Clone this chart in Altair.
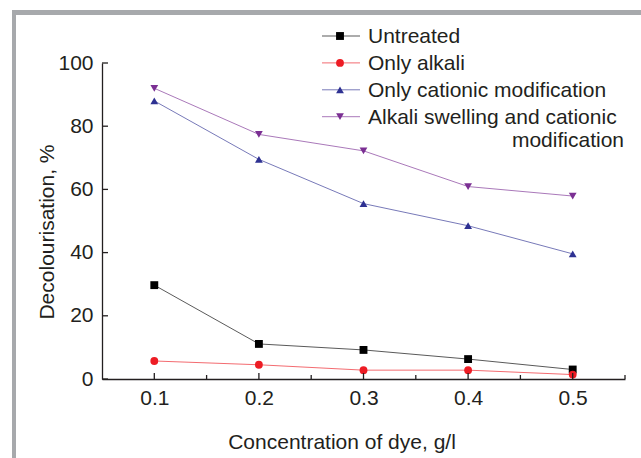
import altair as alt
import pandas as pd

# ---- data ----
conc = [0.1, 0.2, 0.3, 0.4, 0.5]
untreated = [29.7, 11.1, 9.2, 6.3, 3.0]
only_alkali = [5.7, 4.5, 2.8, 2.8, 1.4]
only_cationic = [88.0, 69.5, 55.5, 48.5, 39.6]
alkali_cationic = [92.0, 77.4, 72.2, 60.9, 57.9]

series_names = ["Untreated", "Only alkali", "Only cationic modification",
                "Alkali swelling and cationic modification"]
legend_labels = ["Untreated", "Only alkali", "Only cationic modification",
                 "Alkali swelling and cationic"]
legend_cont = "modification"

y_tick_values = [0, 20, 40, 60, 80, 100]
x_minor_ticks = [0.15, 0.25, 0.35, 0.45, 0.55]

x_title = "Concentration of dye, g/l"
y_title = "Decolourisation, %"

# ---- styles ----
marker_colors = ["#000000", "#ed1c24", "#2e3192", "#7b2f93"]
shapes = ["square", "circle", "triangle-up", "triangle-down"]
sizes = [62, 60, 80, 80]
FONT = "Liberation Sans"
FS = 21
TXT = "#231f20"
W, H = 523, 316

rows = []
for name, vals in zip(series_names, [untreated, only_alkali, only_cationic, alkali_cationic]):
    for c, v in zip(conc, vals):
        rows.append({"series": name, "conc": c, "value": v})
df = pd.DataFrame(rows)

leg_df = pd.DataFrame({"series": series_names, "row": list(range(len(series_names))),
                       "label": legend_labels})

xs = alt.Scale(domain=[0.05, 0.55], nice=False, zero=False)
ys = alt.Scale(domain=[0, 100], nice=False)

color = alt.Color("series:N", scale=alt.Scale(domain=series_names, range=marker_colors), legend=None)
shape = alt.Shape("series:N", scale=alt.Scale(domain=series_names, range=shapes), legend=None)
size = alt.Size("series:N", scale=alt.Scale(domain=series_names, range=sizes), legend=None)

x_axis = alt.Axis(values=conc, format=".1f", ticks=False, grid=False,
                  labelFontSize=FS, labelFont=FONT, labelColor=TXT, labelPadding=8,
                  domainColor=TXT, domainWidth=1.3,
                  title=x_title, titleFont=FONT, titleFontSize=FS, titleFontWeight="normal",
                  titleColor=TXT, titleX=239.5, titleY=69, titleAlign="center",
                  titleBaseline="alphabetic")
y_axis = alt.Axis(values=y_tick_values, ticks=False, grid=False,
                  labelFontSize=FS, labelFont=FONT, labelColor=TXT, labelPadding=9,
                  domainColor=TXT, domainWidth=1.3,
                  title=y_title, titleFont=FONT, titleFontSize=FS, titleFontWeight="normal",
                  titleColor=TXT, titleX=-49, titleY=168.5, titleAlign="center",
                  titleAngle=270, titleBaseline="alphabetic")

X = alt.X("conc:Q", scale=xs, axis=x_axis)

base = alt.Chart(df)
lines = base.mark_line(strokeWidth=1, opacity=0.65).encode(
    x=X,
    y=alt.Y("value:Q", scale=ys, axis=y_axis),
    color=color, detail="series:N")
points = base.mark_point(filled=True, opacity=1).encode(
    x=X,
    y=alt.Y("value:Q", scale=ys, axis=None),
    color=color, shape=shape, size=size)

# inward ticks
yt = alt.Chart(pd.DataFrame({"value": y_tick_values})).mark_rule(color=TXT, strokeWidth=1.3).encode(
    y=alt.Y("value:Q", scale=ys, axis=None), x=alt.value(0), x2=alt.value(6))
xt = alt.Chart(pd.DataFrame({"conc": conc})).mark_rule(color=TXT, strokeWidth=1.3).encode(
    x=X, y=alt.value(H), y2=alt.value(H - 6))
xmt = alt.Chart(pd.DataFrame({"conc": x_minor_ticks})).mark_rule(color=TXT, strokeWidth=1.3).encode(
    x=X, y=alt.value(H), y2=alt.value(H - 4))

# manual legend
ly = alt.Y("row:Q", scale=alt.Scale(domain=[0, 3], range=[-27, 53.7]), axis=None)
leg_base = alt.Chart(leg_df)
leg_lines = leg_base.mark_rule(strokeWidth=1, opacity=0.65).encode(
    x=alt.value(220), x2=alt.value(258), y=ly, color=color)
leg_pts = leg_base.mark_point(filled=True, opacity=1).encode(
    x=alt.value(238), y=ly, color=color, shape=shape, size=size)
leg_txt = leg_base.mark_text(align="left", baseline="middle", fontSize=FS, font=FONT,
                             color=TXT, dy=1).encode(
    x=alt.value(266), y=ly, text="label:N")
leg_txt2 = alt.Chart(pd.DataFrame({"label": [legend_cont]})).mark_text(
    align="right", baseline="middle", fontSize=FS, font=FONT, color=TXT).encode(
    x=alt.value(522), y=alt.value(78), text="label:N")

# gray frame of the original figure
dummy = pd.DataFrame({"a": [0]})
frame_top = alt.Chart(dummy).mark_rect(color="#a7a9ac").encode(
    x=alt.value(-90), x2=alt.value(539), y=alt.value(-53), y2=alt.value(-48))
frame_left = alt.Chart(dummy).mark_rect(color="#a7a9ac").encode(
    x=alt.value(-90), x2=alt.value(-86), y=alt.value(-53), y2=alt.value(395))

chart = alt.layer(
    lines, points, yt, xt, xmt, frame_top, frame_left,
    leg_lines, leg_pts, leg_txt, leg_txt2
).resolve_scale(y="independent").properties(
    width=W, height=H,
    padding={"left": 102, "top": 63, "right": 16, "bottom": 79},
    autosize=alt.AutoSizeParams(type="none"),
    background="white",
).configure_view(stroke=None)

chart.save("out.html", embed_options={"renderer": "svg", "actions": False})
